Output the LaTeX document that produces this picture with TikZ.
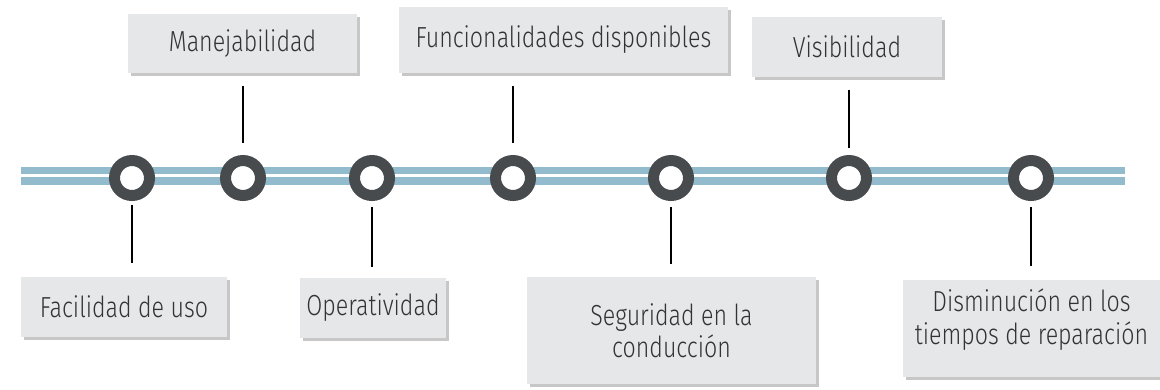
\documentclass[tikz,border=0pt]{standalone}
\usepackage{fontspec}
\IfFontExistsTF{Fira Sans Light}{\setmainfont{Fira Sans Light}[FakeStretch=0.8]}{\setmainfont{Fira Sans}[FakeStretch=0.8]}
\usetikzlibrary{shadows}
\definecolor{bandc}{HTML}{93BBCE}
\definecolor{ringc}{HTML}{474B4D}
\definecolor{boxc}{HTML}{E6E7E8}
\definecolor{txtc}{HTML}{333333}
\begin{document}
\begin{tikzpicture}[x=1pt,y=-1pt,
  band/.style={line width=7.5pt,draw=bandc},
  ring/.style={circle,inner sep=0pt,minimum size=35pt,line width=11pt,draw=ringc,fill=white},
  stem/.style={line width=2.6pt,draw=black},
  txt/.style={inner sep=0pt,align=center,text=txtc,font=\fontsize{29}{32.5}\selectfont},
  infobox/.style={txt,fill=boxc,
     drop shadow={shadow xshift=2.5pt,shadow yshift=-3pt,opacity=0.22,fill=black}},
]
\useasboundingbox (0,0) rectangle (1160,389);
% bands
\coordinate (bl1) at (21,170.5); \coordinate (br1) at (1125,170.5);
\coordinate (bl2) at (21,181); \coordinate (br2) at (1125,181);
\draw[band] (bl1) -- (br1);
\draw[band] (bl2) -- (br2);
% boxes
\node[infobox,minimum width=229pt,minimum height=59pt] (b2) at (242.5,43.5) {Manejabilidad};
\node[infobox,minimum width=329pt,minimum height=66pt] (b4) at (563.5,40) {Funcionalidades disponibles};
\node[infobox,minimum width=190pt,minimum height=60pt] (b6) at (847,47) {Visibilidad};
\node[infobox,minimum width=206pt,minimum height=60pt] (b1) at (124,307) {Facilidad de uso};
\node[infobox,minimum width=146pt,minimum height=60pt] (b3) at (373,308) {Operatividad};
\node[infobox,minimum width=289pt,minimum height=107pt] (b5) at (671.5,330.5) {Seguridad en la\\conducción};
\node[infobox,minimum width=257pt,minimum height=97pt] (b7) at (1031.5,328.5) {};
\node[txt] (t7) at ([yshift=9pt]b7.center) {Disminución en los\\tiempos de reparación};
% rings
\node[ring] (c1) at (132,178) {};
\node[ring] (c2) at (243,178) {};
\node[ring] (c3) at (372,178) {};
\node[ring] (c4) at (513,178) {};
\node[ring] (c5) at (671,178) {};
\node[ring] (c6) at (849,178) {};
\node[ring] (c7) at (1031,178) {};
% stems
\draw[stem,shorten <=27pt,shorten >=14pt] (c1.center) -- (c1 |- b1.north);
\draw[stem,shorten <=35pt,shorten >=13pt] (c2.center) -- (c2 |- b2.south);
\draw[stem,shorten <=29pt,shorten >=11pt] (c3.center) -- (c3 |- b3.north);
\draw[stem,shorten <=35pt,shorten >=13pt] (c4.center) -- (c4 |- b4.south);
\draw[stem,shorten <=29pt,shorten >=13pt] (c5.center) -- (c5 |- b5.north);
\draw[stem,shorten <=30pt,shorten >=13pt] (c6.center) -- (c6 |- b6.south);
\draw[stem,shorten <=29pt,shorten >=14pt] (c7.center) -- (c7 |- b7.north);
\end{tikzpicture}
\end{document}
